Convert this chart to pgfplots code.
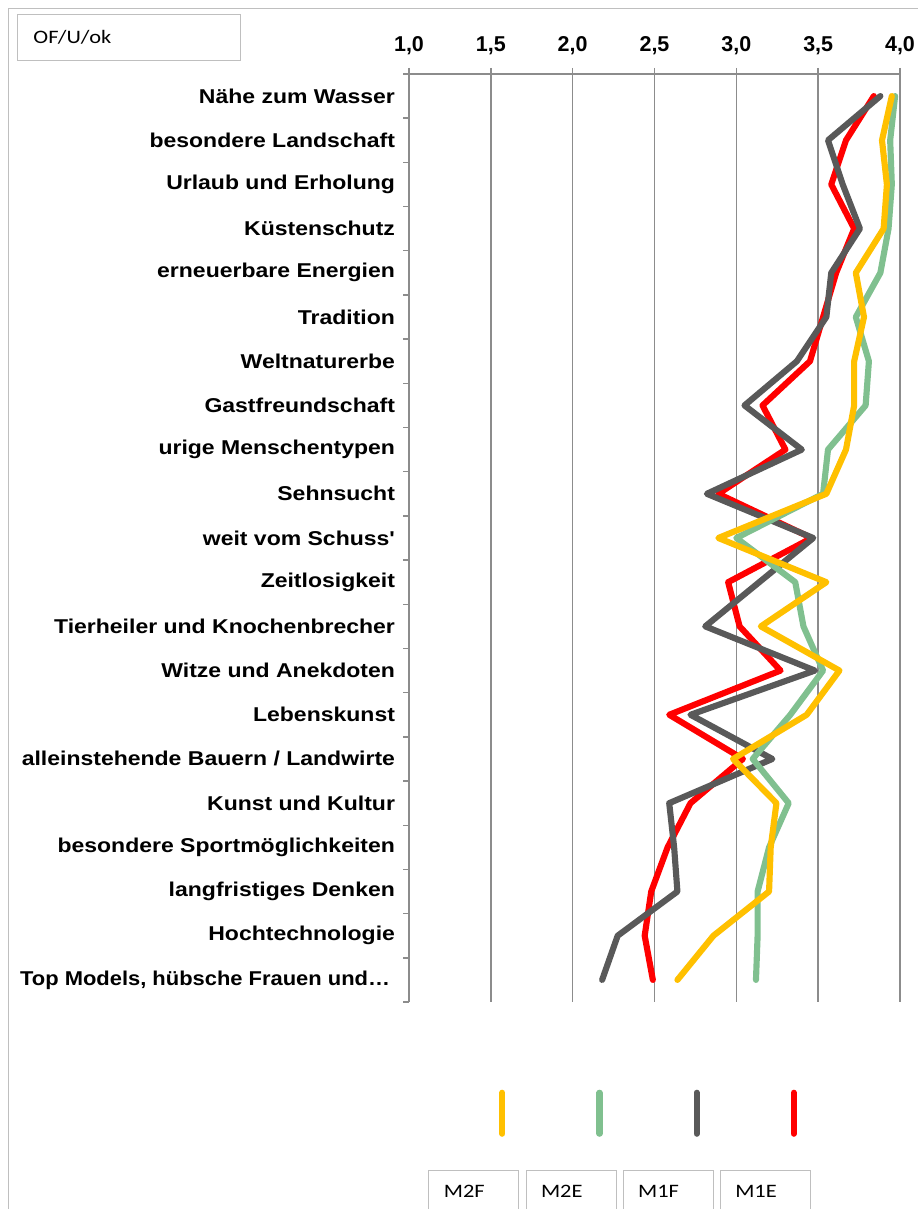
\documentclass[border=0pt]{standalone}
\usepackage{fontspec}
\setmainfont{Liberation Sans}
\newfontfamily\catfont[FakeStretch=1.15]{Liberation Sans}
\newfontfamily\catfontn[FakeStretch=1.096]{Liberation Sans}
\newfontfamily\calfont[FakeStretch=1.18]{Carlito}
\usepackage{pgfplots}
\pgfplotsset{compat=1.18}
\definecolor{cYel}{HTML}{FFC000}
\definecolor{cGrn}{HTML}{80C08F}
\definecolor{cGry}{HTML}{595959}
\definecolor{cRed}{HTML}{FF0000}
\definecolor{cAx}{HTML}{8C8C8C}
\definecolor{cBox}{HTML}{BFBFBF}
\begin{document}
\begin{tikzpicture}
\useasboundingbox (0,0) rectangle (687.75pt,906.75pt);
\draw[cBox,line width=0.8pt] (6.2pt,-20pt) -- (6.2pt,900.5pt) -- (720pt,900.5pt);
\node[draw=cBox,line width=0.75pt,anchor=north west,minimum height=34.5pt,text width=143.25pt,inner xsep=12pt,inner ysep=0pt,align=left,font=\calfont\fontsize{14.25}{17}\selectfont] at (12.75pt,896.25pt) {OF/U/ok};
\begin{axis}[
  at={(306.75pt,851.25pt)}, anchor=north west,
  scale only axis, width=368.25pt, height=696pt,
  xmin=1, xmax=4, ymin=-20.5, ymax=0.5,
  clip=false,
  axis x line*=top, axis y line*=left,
  axis line style={-,draw=cAx,line width=1.1pt},
  xmajorgrids, major grid style={draw=cAx,line width=1.1pt},
  tick align=outside, major tick length=4.5pt,
  tick style={draw=cAx,line width=1.1pt},
  xtick={1,1.5,2,2.5,3,3.5,4},
  xticklabels={{1,0},{1,5},{2,0},{2,5},{3,0},{3,5},{4,0}},
  xticklabel style={font=\bfseries\fontsize{16.1}{19}\selectfont, yshift=6pt},
  ytick={-20.5,-19.5,...,0.5},
  yticklabel=\empty,
  extra y ticks={-20,-19,...,0},
  extra y tick labels={{\catfontn Top Models, hübsche Frauen und…\kern3.75pt},{Hochtechnologie},{langfristiges Denken},{besondere Sportmöglichkeiten},{Kunst und Kultur},{alleinstehende Bauern / Landwirte},{Lebenskunst},{Witze und Anekdoten},{Tierheiler und Knochenbrecher},{Zeitlosigkeit},{weit vom Schuss'},{Sehnsucht},{urige Menschentypen},{Gastfreundschaft},{Weltnaturerbe},{Tradition},{erneuerbare Energien},{Küstenschutz},{Urlaub und Erholung},{besondere Landschaft},{Nähe zum Wasser}},
  extra y tick style={major tick length=0pt, yticklabel style={font=\catfont\bfseries\fontsize{15}{18}\selectfont, xshift=-7pt}},
  every axis plot/.append style={line width=4.6pt, line cap=round, line join=round},
  reverse legend,
  legend columns=4,
  legend image code/.code={\path (0pt,0pt); \draw[#1,overlay,line cap=round] (57.75pt,44.25pt) -- (57.75pt,75pt);},
  legend style={at={(0.0265,-0.181)}, anchor=north west, draw=none, fill=none, inner sep=0pt,
    column sep=0pt, /tikz/every even column/.style={column sep=0pt},
    cells={anchor=west},
    nodes={draw=cBox,line width=0.75pt,text width=45pt,align=left,inner xsep=11.25pt,inner ysep=0pt,minimum height=33pt,font=\calfont\fontsize{14.25}{17}\selectfont}},
]
% M1E red
\addplot[cRed] coordinates {
(3.84,0) (3.67,-1) (3.58,-2) (3.72,-3) (3.61,-4) (3.53,-5) (3.45,-6) (3.16,-7) (3.30,-8) (2.89,-9) (3.46,-10)
(2.95,-11) (3.02,-12) (3.27,-13) (2.59,-14) (3.04,-15) (2.72,-16) (2.58,-17) (2.48,-18) (2.44,-19) (2.49,-20)};
\addlegendentry{M1E}
% M1F gray
\addplot[cGry] coordinates {
(3.88,0) (3.56,-1) (3.65,-2) (3.755,-3) (3.58,-4) (3.55,-5) (3.37,-6) (3.05,-7) (3.40,-8) (2.82,-9) (3.47,-10)
(3.14,-11) (2.81,-12) (3.48,-13) (2.72,-14) (3.22,-15) (2.59,-16) (2.62,-17) (2.64,-18) (2.275,-19) (2.18,-20)};
\addlegendentry{M1F}
% M2E green
\addplot[cGrn] coordinates {
(3.97,0) (3.94,-1) (3.95,-2) (3.93,-3) (3.88,-4) (3.73,-5) (3.81,-6) (3.79,-7) (3.56,-8) (3.53,-9) (3.00,-10)
(3.36,-11) (3.41,-12) (3.53,-13) (3.33,-14) (3.10,-15) (3.32,-16) (3.20,-17) (3.13,-18) (3.13,-19) (3.12,-20)};
\addlegendentry{M2E}
% M2F yellow
\addplot[cYel] coordinates {
(3.95,0) (3.89,-1) (3.92,-2) (3.90,-3) (3.73,-4) (3.78,-5) (3.72,-6) (3.72,-7) (3.67,-8) (3.55,-9) (2.89,-10)
(3.55,-11) (3.15,-12) (3.63,-13) (3.43,-14) (2.98,-15) (3.245,-16) (3.21,-17) (3.20,-18) (2.86,-19) (2.64,-20)};
\addlegendentry{M2F}
\end{axis}
\end{tikzpicture}
\end{document}
